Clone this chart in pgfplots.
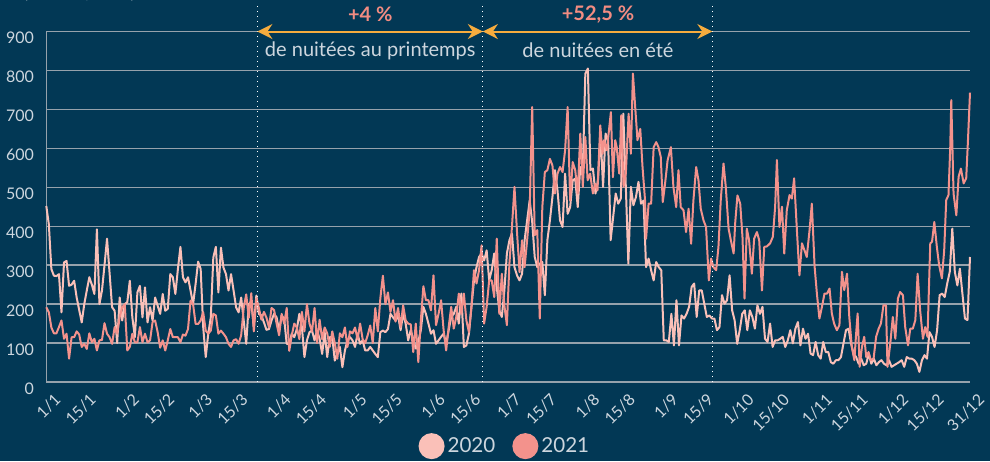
\documentclass[border=0pt]{standalone}
\usepackage{fontspec}
\setmainfont{Lato}
\usepackage{pgfplots}
\pgfplotsset{compat=1.18}
\usetikzlibrary{arrows.meta}
\definecolor{bg}{RGB}{2,56,85}
\definecolor{gridc}{RGB}{150,162,172}
\definecolor{tickc}{RGB}{205,214,222}
\definecolor{c2020}{RGB}{250,192,184}
\definecolor{c2021}{RGB}{243,146,140}
\definecolor{orangec}{RGB}{246,172,62}
\definecolor{pctc}{RGB}{242,140,130}

\begin{document}
\begin{tikzpicture}
\path[use as bounding box, fill=bg] (-23.15pt,-39.5pt) rectangle (471.85pt,191pt);
\node[anchor=base west, text=tickc, font=\fontsize{9}{10}\selectfont, inner sep=0pt] at (-11.65pt,191.6pt) {(nuitées, total)};
\begin{axis}[
  at={(0,0)}, anchor=south west,
  scale only axis, width=461.85pt, height=175.25pt,
  xmin=0, xmax=365, ymin=0, ymax=900,
  axis x line=bottom, axis y line=left,
  axis line style={-, draw=gridc, line width=0.7pt},
  ytick={0,100,...,900},
  ymajorgrids, grid style={draw=gridc, line width=0.7pt},
  major tick length=0pt,
  xtick={0,14,31,45,60,74,91,105,121,135,152,166,182,196,213,227,244,258,274,288,305,319,335,349,365},
  xticklabels={1/1,15/1,1/2,15/2,1/3,15/3,1/4,15/4,1/5,15/5,1/6,15/6,1/7,15/7,1/8,15/8,1/9,15/9,1/10,15/10,1/11,15/11,1/12,15/12,31/12},
  xticklabel style={xshift=3.5pt, yshift=-5pt, rotate=45, anchor=north east, inner sep=0pt},
  yticklabel style={anchor=east, inner sep=0pt, xshift=-6pt, yshift=-3.3pt},
  tick label style={font=\fontsize{8}{9}\selectfont, text=tickc},
  /pgf/number format/assume math mode=true,
  clip=false,
  legend columns=2,
  legend style={at={(0.497,-0.183)}, anchor=center, draw=none, fill=none,
    text=tickc, font=\fontsize{10.3}{12}\selectfont,
    nodes={inner sep=1.5pt},
    /tikz/every even column/.append style={column sep=7pt}},
]
\addplot[c2020, line width=1pt, line join=round,
  legend image code/.code={\fill[c2020] (0pt,0pt) circle (6pt);}] coordinates {
(0,452) (1,405) (2,290) (3,273) (4,272) (5,277) (6,179) (7,307) (8,311) (9,247)
(10,250) (11,260) (12,217) (13,185) (14,153) (15,200) (16,235) (17,269) (18,250) (19,226)
(20,392) (21,200) (22,235) (23,300) (24,368) (25,280) (26,192) (27,183) (28,100) (29,217)
(30,158) (31,200) (32,205) (33,260) (34,166) (35,115) (36,230) (37,247) (38,166) (39,243)
(40,153) (41,192) (42,158) (43,217) (44,196) (45,175) (46,226) (47,183) (48,188) (49,277)
(50,269) (51,226) (52,290) (53,347) (54,269) (55,256) (56,269) (57,235) (58,200) (59,252)
(60,309) (61,290) (62,141) (63,64) (64,124) (65,166) (66,320) (67,347) (68,230) (69,345)
(70,294) (71,277) (72,235) (73,277) (74,235) (75,192) (76,179) (77,217) (78,158) (79,98)
(80,200) (81,205) (82,141) (83,222) (84,175) (85,171) (86,153) (87,134) (88,136) (89,158)
(90,175) (91,166) (92,132) (93,171) (94,162) (95,98) (96,98) (97,124) (98,115) (99,136)
(100,175) (101,141) (102,64) (103,107) (104,128) (105,132) (106,107) (107,132) (108,111) (109,72)
(110,128) (111,64) (112,115) (113,115) (114,55) (115,72) (116,90) (117,38) (118,81) (119,107)
(120,115) (121,107) (122,90) (123,124) (124,98) (125,107) (126,81) (127,81) (128,90) (129,81)
(130,72) (131,64) (132,128) (133,132) (134,128) (135,136) (136,175) (137,166) (138,158) (139,171)
(140,133) (141,175) (142,150) (143,107) (144,133) (145,110) (146,86) (147,103) (148,133) (149,193)
(150,175) (151,150) (152,124) (153,133) (154,98) (155,107) (156,116) (157,124) (158,98) (159,133)
(160,167) (161,175) (162,193) (163,150) (164,227) (165,90) (166,94) (167,124) (168,193) (169,261)
(170,295) (171,321) (172,330) (173,312) (174,338) (175,261) (176,287) (177,330) (178,244) (179,184)
(180,167) (181,235) (182,330) (183,364) (184,381) (185,295) (186,274) (187,261) (188,278) (189,364)
(190,415) (191,466) (192,411) (193,321) (194,295) (195,304) (196,308) (197,223) (198,364) (199,415)
(200,475) (201,544) (202,492) (203,415) (204,398) (205,535) (206,432) (207,449) (208,518) (209,522)
(210,449) (211,552) (212,544) (213,792) (214,805) (215,544) (216,548) (217,484) (218,518) (219,638)
(220,501) (221,638) (222,621) (223,364) (224,424) (225,484) (226,458) (227,471) (228,689) (229,501)
(230,304) (231,501) (232,454) (233,475) (234,514) (235,458) (236,466) (237,295) (238,317) (239,287)
(240,261) (241,308) (242,295) (243,287) (244,107) (245,107) (246,103) (247,175) (248,94) (249,210)
(250,94) (251,171) (252,163) (253,175) (254,193) (255,244) (256,253) (257,167) (258,235) (259,235)
(260,201) (261,167) (262,171) (263,163) (264,163) (265,133) (266,141) (267,223) (268,201) (269,210)
(270,274) (271,184) (272,158) (273,98) (274,133) (275,175) (276,184) (277,133) (278,184) (279,167)
(280,137) (281,197) (282,175) (283,193) (284,111) (285,103) (286,150) (287,90) (288,107) (289,107)
(290,111) (291,116) (292,90) (293,107) (294,133) (295,99) (296,137) (297,154) (298,94) (299,137)
(300,111) (301,124) (302,73) (303,69) (304,103) (305,69) (306,60) (307,103) (308,77) (309,77)
(310,51) (311,47) (312,56) (313,56) (314,64) (315,99) (316,133) (317,137) (318,99) (319,73)
(320,64) (321,47) (322,60) (323,43) (324,47) (325,73) (326,47) (327,60) (328,43) (329,51)
(330,56) (331,47) (332,43) (333,56) (334,39) (335,43) (336,47) (337,51) (338,56) (339,39)
(340,64) (341,60) (342,60) (343,56) (344,47) (345,26) (346,56) (347,69) (348,60) (349,128)
(350,116) (351,90) (352,133) (353,223) (354,227) (355,218) (356,253) (357,283) (358,394) (359,283)
(360,248) (361,291) (362,227) (363,163) (364,159) (365,321)
};
\addlegendentry{2020}
\addplot[c2021, line width=1pt, line join=round,
  legend image code/.code={\fill[c2021] (0pt,0pt) circle (6pt);}] coordinates {
(0,192) (1,179) (2,140) (3,125) (4,125) (5,141) (6,158) (7,111) (8,124) (9,60)
(10,115) (11,115) (12,130) (13,122) (14,90) (15,98) (16,85) (17,125) (18,102) (19,111)
(20,81) (21,107) (22,108) (23,151) (24,124) (25,115) (26,98) (27,141) (28,124) (29,166)
(30,192) (31,200) (32,81) (33,90) (34,124) (35,102) (36,102) (37,141) (38,102) (39,124)
(40,102) (41,107) (42,154) (43,158) (44,128) (45,88) (46,107) (47,81) (48,107) (49,136)
(50,115) (51,115) (52,115) (53,102) (54,122) (55,119) (56,136) (57,209) (58,200) (59,149)
(60,149) (61,158) (62,179) (63,132) (64,124) (65,132) (66,175) (67,171) (68,124) (69,132)
(70,124) (71,115) (72,98) (73,90) (74,107) (75,110) (76,98) (77,120) (78,190) (79,225)
(80,165) (81,228) (82,130) (83,215) (84,190) (85,160) (86,180) (87,165) (88,140) (89,190)
(90,185) (91,150) (92,120) (93,175) (94,150) (95,190) (96,80) (97,120) (98,150) (99,140)
(100,110) (101,180) (102,130) (103,200) (104,150) (105,130) (106,190) (107,100) (108,160) (109,110)
(110,140) (111,125) (112,90) (113,130) (114,100) (115,60) (116,125) (117,115) (118,140) (119,90)
(120,130) (121,125) (122,140) (123,110) (124,150) (125,110) (126,100) (127,120) (128,145) (129,100)
(130,190) (131,130) (132,215) (133,273) (134,200) (135,230) (136,180) (137,210) (138,155) (139,190)
(140,141) (141,197) (142,158) (143,150) (144,148) (145,77) (146,150) (147,51) (148,158) (149,246)
(150,210) (151,210) (152,184) (153,274) (154,146) (155,175) (156,210) (157,133) (158,81) (159,141)
(160,193) (161,137) (162,167) (163,227) (164,175) (165,227) (166,158) (167,128) (168,193) (169,287)
(170,253) (171,287) (172,351) (173,150) (174,193) (175,261) (176,261) (177,218) (178,368) (179,175)
(180,278) (181,197) (182,146) (183,304) (184,398) (185,501) (186,385) (187,282) (188,364) (189,295)
(190,364) (191,441) (192,706) (193,377) (194,390) (195,163) (196,449) (197,539) (198,544) (199,573)
(200,556) (201,484) (202,535) (203,552) (204,539) (205,595) (206,706) (207,466) (208,565) (209,544)
(210,484) (211,638) (212,501) (213,629) (213.9,518) (214.9,535) (216,484) (216.9,509) (217.8,492) (218.9,659)
(219.8,586) (220.4,621) (221.5,595) (222.2,638) (223.1,693) (223.9,526) (224.8,621) (225.4,603) (226.4,535) (227.2,685)
(228.1,501) (229,535) (230.1,689) (231,586) (231.8,792) (232.7,706) (233.6,621) (234.7,650) (235.6,552) (236.6,466)
(237,368) (238,458) (239,458) (240,603) (241,616) (241.9,603) (242.8,578) (243.6,462) (244.5,509) (245.5,569)
(246.8,603) (247.8,501) (248.9,449) (249.8,544) (250.7,449) (251.8,441) (252.8,385) (253.8,445) (254.8,355) (255.7,466)
(256.8,552) (257.7,518) (258.6,445) (259.7,415) (260.7,398) (261.8,261) (262.7,317) (263.6,295) (264.7,287) (265.6,347)
(266.5,466) (267.6,561) (268.5,501) (269.6,394) (270.5,364) (271.6,330) (272.2,407) (273.1,479) (274.2,458) (275.1,372)
(275.9,214) (276.8,394) (277.7,364) (278.8,278) (279.7,368) (280.8,385) (281.7,364) (282.8,235) (283.7,347) (284.7,348)
(286,356) (287.1,373) (288,450) (288.7,570) (289.7,398) (290.7,450) (291.6,330) (292.6,441) (293.7,480) (294.6,471)
(295.5,523) (296.6,390) (297.6,274) (298.6,356) (299.6,338) (300.5,321) (301.6,390) (302.5,458) (303.6,296) (304.5,227)
(305.5,163) (306.5,193) (307.5,227) (308.5,227) (309.5,240) (310.4,176) (311.3,150) (312.4,133) (313.4,146) (314.4,283)
(315.3,236) (316.4,278) (317.3,167) (318.3,90) (319.3,56) (320,124) (320.6,176) (321.4,39) (322.3,90) (323.2,116)
(324,64) (324.9,77) (325.8,56) (326.9,60) (327.9,116) (328.9,137) (329.8,150) (330.8,197) (331.8,197) (332.4,39)
(333.5,99) (334.5,167) (335.5,111) (336.5,214) (337.4,231) (338.5,223) (339.4,141) (340.5,94) (341.4,137) (342.4,137)
(343.4,159) (344.3,278) (345.3,184) (346.4,111) (347.3,141) (348.2,116) (349.3,356) (350,360) (350.9,411) (351.9,347)
(352.8,300) (353.9,266) (354.8,338) (355.6,467) (356.5,480) (357.2,604) (357.6,724) (358.5,484) (359.6,428) (360.5,527)
(361.4,548) (362.5,510) (363.5,523) (364.2,621) (365,743)
};
\addlegendentry{2021}
% saisons
\draw[white, dotted, line width=0.5pt] (axis cs:83.4,0) -- (axis cs:83.4,969);
\draw[white, dotted, line width=0.5pt] (axis cs:172.5,0) -- (axis cs:172.5,969);
\draw[white, dotted, line width=0.5pt] (axis cs:263.2,0) -- (axis cs:263.2,969);
\draw[orangec, line width=1pt, {Stealth[length=7.5pt,width=7.5pt]}-{Stealth[length=7.5pt,width=7.5pt]}]
  (axis cs:83.4,900) -- (axis cs:172.5,900);
\draw[orangec, line width=1pt, {Stealth[length=7.5pt,width=7.5pt]}-{Stealth[length=7.5pt,width=7.5pt]}]
  (axis cs:172.5,900) -- (axis cs:263.2,900);
\node[text=pctc, font=\bfseries\fontsize{10}{11}\selectfont] at (axis cs:128,943) {+4~\%};
\node[text=pctc, font=\bfseries\fontsize{10}{11}\selectfont] at (axis cs:218,943) {+52,5~\%};
\node[text=tickc, font=\fontsize{10}{11}\selectfont] at (axis cs:128,851) {de nuitées au printemps};
\node[text=tickc, font=\fontsize{10}{11}\selectfont] at (axis cs:218,851) {de nuitées en été};
\end{axis}
\end{tikzpicture}
\end{document}
